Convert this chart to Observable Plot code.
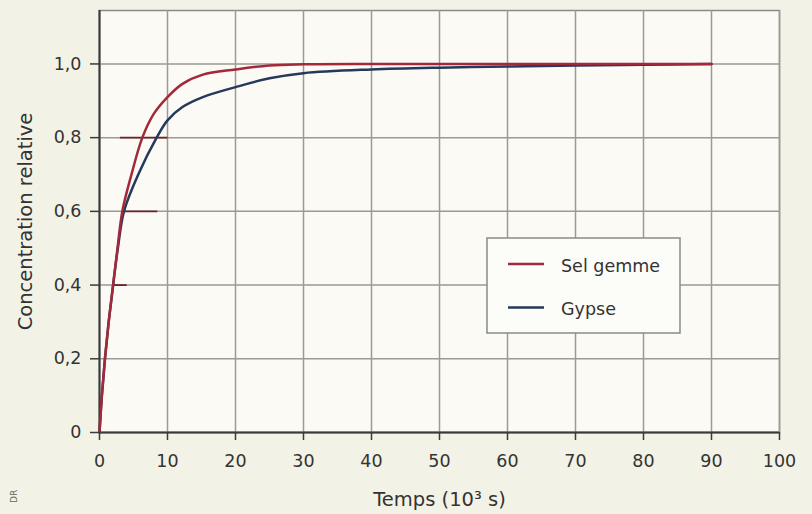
<!DOCTYPE html>
<html>
<head>
<meta charset="utf-8">
<script src="https://cdn.jsdelivr.net/npm/d3@7"></script>
<script src="https://cdn.jsdelivr.net/npm/@observablehq/plot@0.6"></script>
<style>
  html, body { margin: 0; padding: 0; background: #f3f2e6; }
  #chart { position: relative; width: 812px; height: 514px; }
</style>
</head>
<body>
<div id="chart"></div>
<script>
// Data
const xTicks = [0, 10, 20, 30, 40, 50, 60, 70, 80, 90, 100];
const yTicks = [0, 0.2, 0.4, 0.6, 0.8, 1.0];

const selX = [0, 0.35, 0.8, 1.35, 2, 2.65, 3.35, 4.7, 6.3, 8, 10, 12.2, 15.2, 20, 25, 30, 40, 50, 60, 70, 80, 90];
const selY = [0, 0.1, 0.2, 0.3, 0.4, 0.5, 0.6, 0.7, 0.8, 0.865, 0.91, 0.946, 0.971, 0.985, 0.996, 0.999, 1.0, 1.0, 1.0, 1.0, 1.0, 1.0];

const gypX = [0, 0.35, 0.8, 1.35, 2, 2.7, 3.6, 5.7, 8.4, 10, 12.2, 15.2, 20, 25, 30, 40, 50, 60, 70, 80, 90];
const gypY = [0, 0.1, 0.2, 0.3, 0.4, 0.5, 0.6, 0.7, 0.8, 0.847, 0.883, 0.91, 0.937, 0.961, 0.975, 0.985, 0.99, 0.993, 0.996, 0.998, 1.0];

// short horizontal marks visible on the reference
const markY  = [0.4, 0.6, 0.8];
const markX1 = [2, 3.4, 3];
const markX2 = [4, 8.5, 10];

const seriesNames = ["Sel gemme", "Gypse"];
const seriesColors = ["#a3283a", "#26395a"];

const sel = selX.map((x, i) => ({x, y: selY[i]}));
const gyp = gypX.map((x, i) => ({x, y: gypY[i]}));
const marks = markY.map((y, i) => ({y, x1: markX1[i], x2: markX2[i]}));

const fmt = d => d === 0 ? "0" : d.toFixed(1).replace(".", ",");

const font = "'DejaVu Sans', sans-serif";
const fs = 17.5;
const fsLabel = 19.5;

const plot = Plot.plot({
  width: 812,
  height: 514,
  marginLeft: 99,
  marginRight: 33,
  marginTop: 10,
  marginBottom: 82,
  style: {background: "#f3f2e6", fontFamily: font, fontSize: fs + "px", color: "#333"},
  x: {domain: [0, 100]},
  y: {domain: [0, 1.145]},
  marks: [
    Plot.frame({fill: "#fbfaf4", stroke: "#8a8a86", strokeWidth: 1.5}),
    Plot.gridX(xTicks, {stroke: "#9a9a96", strokeOpacity: 1, strokeWidth: 1.5}),
    Plot.gridY(yTicks, {stroke: "#9a9a96", strokeOpacity: 1, strokeWidth: 1.5}),
    Plot.link(marks, {x1: "x1", x2: "x2", y1: "y", y2: "y", stroke: "#6e2430", strokeWidth: 1.8}),
    Plot.ruleX([0], {stroke: "#3a3a3a", strokeWidth: 2}),
    Plot.ruleY([0], {stroke: "#3a3a3a", strokeWidth: 2}),
    Plot.line(gyp, {x: "x", y: "y", stroke: seriesColors[1], strokeWidth: 2.5, curve: "catmull-rom"}),
    Plot.line(sel, {x: "x", y: "y", stroke: seriesColors[0], strokeWidth: 2.5, curve: "catmull-rom"}),
    Plot.axisX(xTicks, {
      tickSize: 8, tickPadding: 14, stroke: "#3a3a3a", strokeWidth: 1.5,
      label: "Temps (10³ s)", labelAnchor: "center", labelArrow: "none", labelOffset: 73,
      fill: "#333"
    }),
    Plot.axisY(yTicks, {
      tickSize: 9, tickPadding: 9, tickFormat: fmt, stroke: "#3a3a3a", strokeWidth: 1.5,
      label: "Concentration relative", labelAnchor: "center", labelArrow: "none", labelOffset: 81,
      fill: "#333"
    })
  ]
});

document.getElementById("chart").appendChild(plot);

const svg = d3.select(plot);
// axis texts size
svg.selectAll("g[aria-label$='tick label'], g[aria-label$='tick label'] text")
  .attr("font-size", fs).style("font-size", fs + "px");
svg.selectAll("g[aria-label='x-axis label'], g[aria-label='x-axis label'] text, g[aria-label='y-axis label'], g[aria-label='y-axis label'] text")
  .attr("font-size", fsLabel).style("font-size", fsLabel + "px");

// Legend box
const lg = svg.append("g").attr("text-anchor", "start");
lg.append("rect")
  .attr("x", 487).attr("y", 238).attr("width", 193).attr("height", 95)
  .attr("fill", "#fcfcf8").attr("stroke", "#8a8a86").attr("stroke-width", 1.5);
const legY = [264, 307.5];
seriesNames.forEach((name, i) => {
  lg.append("line")
    .attr("x1", 508).attr("x2", 544).attr("y1", legY[i]).attr("y2", legY[i])
    .attr("stroke", seriesColors[i]).attr("stroke-width", 2.5);
  lg.append("text")
    .attr("x", 561).attr("y", legY[i] + 2).attr("dy", "0.32em")
    .attr("fill", "#333").attr("font-family", font).attr("font-size", fs)
    .text(name);
});

// Small credit fragment
svg.append("text")
  .attr("transform", "translate(17,503) rotate(-90)")
  .attr("text-anchor", "start")
  .attr("fill", "#666").attr("font-family", font).attr("font-size", 9)
  .text("DR");
</script>
</body>
</html>
